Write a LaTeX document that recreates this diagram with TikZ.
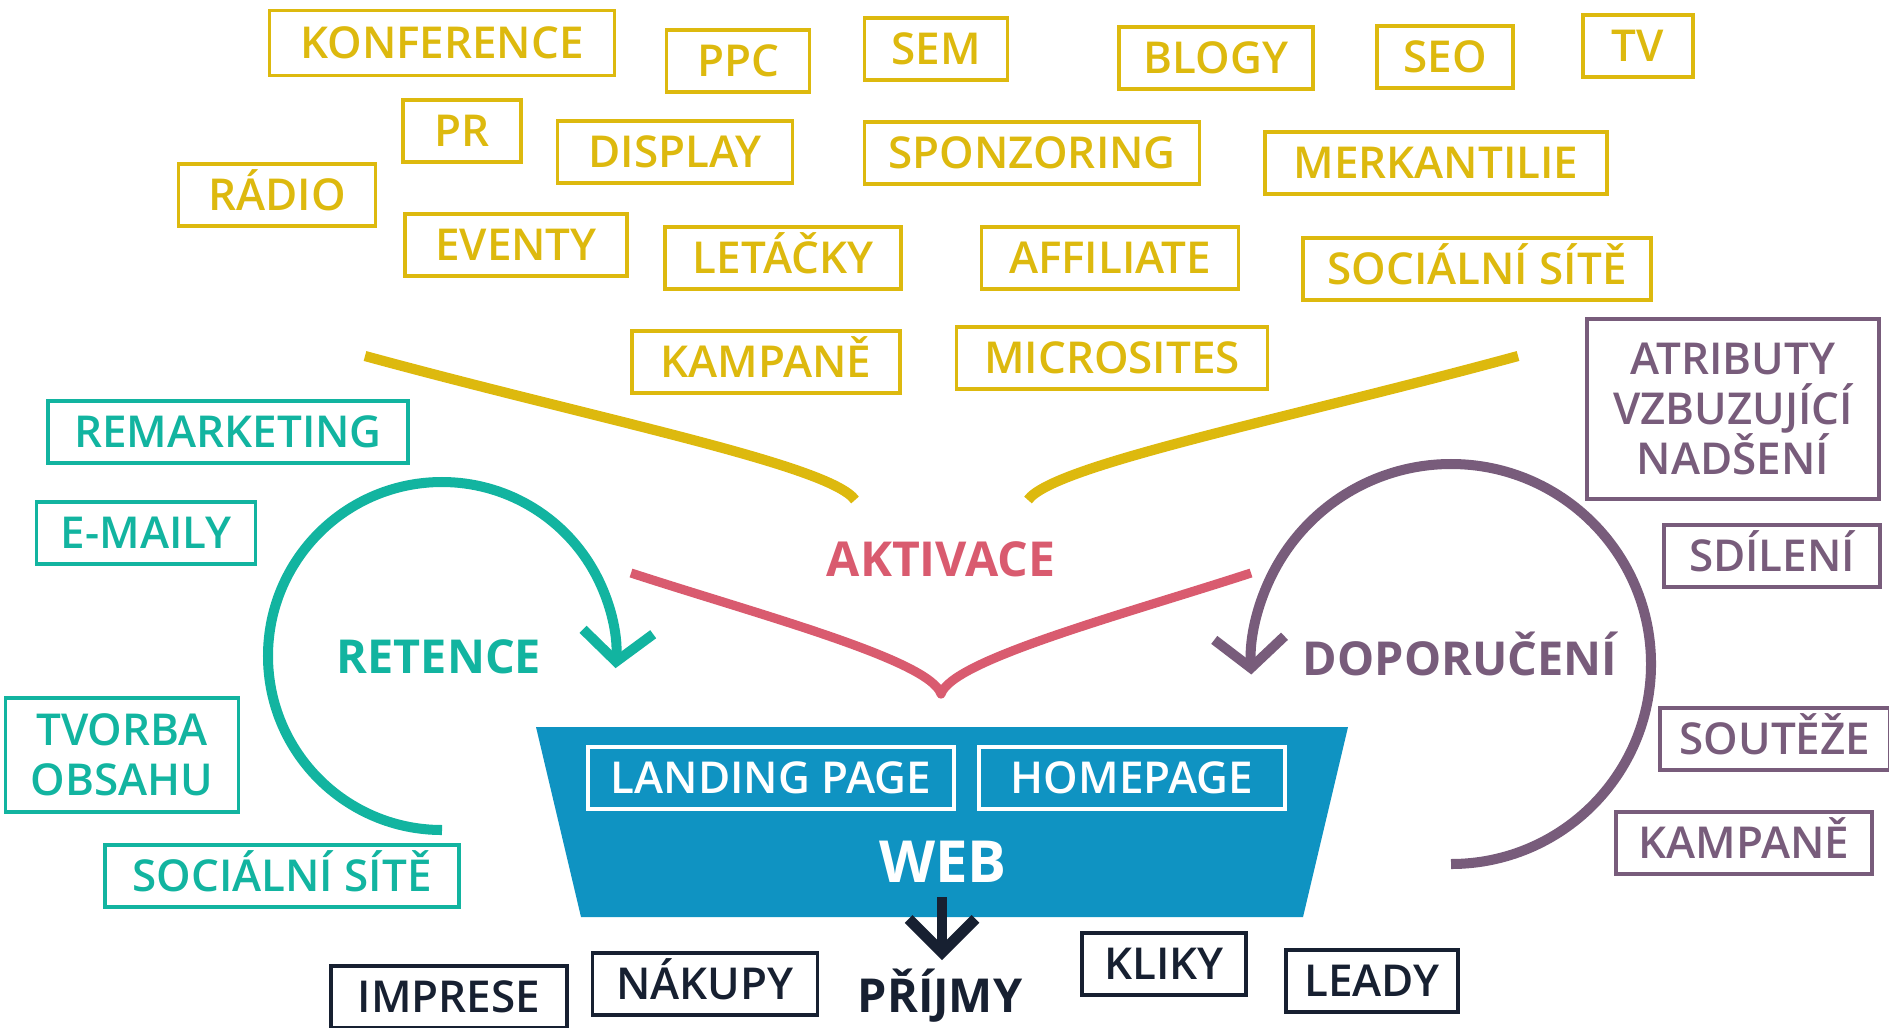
\documentclass[tikz,border=0pt]{standalone}
\usepackage{fontspec}
\setmainfont{Open Sans}
\IfFontExistsTF{Open Sans Semibold}
  {\newfontfamily\semib{Open Sans Semibold}}
  {\IfFontExistsTF{Open Sans SemiBold}
    {\newfontfamily\semib{Open Sans SemiBold}}
    {\newfontfamily\semib{Open Sans}[FakeBold=1.2]}}
\usetikzlibrary{arrows.meta}

\definecolor{mkyellow}{HTML}{DDB90E}
\definecolor{mkteal}{HTML}{12B4A0}
\definecolor{mkpurple}{HTML}{785C7B}
\definecolor{mkred}{HTML}{D95B6F}
\definecolor{mkblue}{HTML}{0F93C2}
\definecolor{mknavy}{HTML}{172031}

\tikzset{
  box/.style={draw, line width=1pt, inner sep=0pt, minimum height=0.62cm,
    font=\semib\fontsize{12.5}{14.2}\selectfont},
  tag/.style={box, text height=0.31cm, text depth=0cm},
  ytag/.style={tag, draw=mkyellow, text=mkyellow},
  ttag/.style={tag, draw=mkteal, text=mkteal},
  ptag/.style={tag, draw=mkpurple, text=mkpurple},
  ntag/.style={tag, draw=mknavy, text=mknavy},
  wtag/.style={tag, draw=white, text=white},
  phase/.style={anchor=base, font=\bfseries\fontsize{13.3}{16}\selectfont},
  loop/.style={line width=2.85pt, -{Straight Barb[length=8.5pt,width=20pt]}}
}

\begin{document}
\begin{tikzpicture}[x=0.01cm, y=-0.01cm]
    \useasboundingbox (0,0) rectangle (1889,1027);

    % akvizice
    \node[ytag, minimum width=3.45cm, minimum height=0.65cm] (konference) at (442,43) {KONFERENCE};
    \node[ytag, minimum width=1.43cm] (ppc) at (738,61) {PPC};
    \node[ytag, minimum width=1.43cm] (sem) at (936,49) {SEM};
    \node[ytag, minimum width=1.94cm] (blogy) at (1216,58) {BLOGY};
    \node[ytag, minimum width=1.36cm] (seo) at (1445,57) {SEO};
    \node[ytag, minimum width=1.10cm] (tv) at (1638,46) {TV};
    \node[ytag, minimum width=1.18cm] (pr) at (462,131) {PR};
    \node[ytag, minimum width=2.35cm] (display) at (675,152) {DISPLAY};
    \node[ytag, minimum width=3.35cm] (sponzoring) at (1032,153) {SPONZORING};
    \node[ytag, minimum width=3.42cm] (merkantilie) at (1436,163) {MERKANTILIE};
    \node[ytag, minimum width=1.97cm] (radio) at (277,195) {RÁDIO};
    \node[ytag, minimum width=2.22cm] (eventy) at (516,245) {EVENTY};
    \node[ytag, minimum width=2.36cm] (letacky) at (783,258) {LETÁČKY};
    \node[ytag, minimum width=2.57cm] (affiliate) at (1110,258) {AFFILIATE};
    \node[ytag, minimum width=3.48cm] (sitey) at (1477,269) {SOCIÁLNÍ SÍTĚ};
    \node[ytag, minimum width=2.68cm] (kampaney) at (766,362) {KAMPANĚ};
    \node[ytag, minimum width=3.11cm] (microsites) at (1112,358) {MICROSITES};

    % retence
    \node[ttag, minimum width=3.60cm] (remarketing) at (228,432) {REMARKETING};
    \node[ttag, minimum width=2.19cm] (emaily) at (146,533) {E-MAILY};
    \node[box, draw=mkteal, text=mkteal, align=center, minimum width=2.33cm, minimum height=1.14cm] (obsah) at (122,755) {TVORBA\\OBSAHU};
    \node[ttag, minimum width=3.54cm] (sitet) at (282,876) {SOCIÁLNÍ SÍTĚ};

    % doporuceni
    \node[box, draw=mkpurple, text=mkpurple, align=center, minimum width=2.92cm, minimum height=1.80cm] (atributy) at (1733,409) {ATRIBUTY\\VZBUZUJÍCÍ\\NADŠENÍ};
    \node[ptag, minimum width=2.16cm] (sdileni) at (1772,556) {SDÍLENÍ};
    \node[ptag, minimum width=2.30cm] (souteze) at (1775,739) {SOUTĚŽE};
    \node[ptag, minimum width=2.56cm] (kampanep) at (1744,843) {KAMPANĚ};

    % vysledky
    \node[ntag, minimum width=2.36cm] (imprese) at (449,997) {IMPRESE};
    \node[ntag, minimum width=2.25cm] (nakupy) at (705,984) {NÁKUPY};
    \node[ntag, minimum width=1.64cm] (kliky) at (1164,964) {KLIKY};
    \node[ntag, minimum width=1.72cm] (leady) at (1372,981) {LEADY};

    % web
    \fill[mkblue] (536,727) -- (1348,727) -- (1303,917) -- (581,917) -- cycle;
    \node[wtag, minimum width=3.66cm] (landing) at (771,778) {LANDING PAGE};
    \node[wtag, minimum width=3.06cm] (homepage) at (1132,778) {HOMEPAGE};
    \node[anchor=base, text=white, font=\bfseries\fontsize{16.5}{19}\selectfont] (web) at (943,882) {WEB};

    \node[phase, text=mkred, font=\bfseries\fontsize{13.7}{16}\selectfont] (aktivace) at (941,576) {AKTIVACE};
    \node[phase, text=mkteal] (retence) at (439,673) {RETENCE};
    \node[phase, text=mkpurple] (doporuceni) at (1460,675) {DOPORUČENÍ};
    \node[phase, text=mknavy] (prijmy) at (940,1012) {PŘÍJMY};

    \coordinate (yl) at (365,356);
    \coordinate (ylend) at (855,500);
    \coordinate (yr) at (1518,356);
    \coordinate (yrend) at (1028,500);
    \coordinate (rl) at (631,573);
    \coordinate (rv) at (941,694);
    \coordinate (rr) at (1251,573);
    \coordinate (tstart) at (442,830);
    \coordinate (pstart) at (1451,864);
    \coordinate (wtop) at (942,897);
    \coordinate (wtip) at (942,960);

    \draw[mkyellow, line width=2.9pt] (yl) .. controls (600,420) and (830,465) .. (ylend);
    \draw[mkyellow, line width=2.9pt] (yr) .. controls (1283,420) and (1053,465) .. (yrend);
    \draw[mkred, line width=2.6pt, line join=round] (rl) .. controls (760,615) and (930,660) .. (rv)
        .. controls (952,660) and (1122,615) .. (rr);

    \draw[loop, mkteal] (tstart) arc[start angle=90, end angle=364, radius=174];
    \draw[loop, mkpurple] (pstart) arc[start angle=90, end angle=-183, radius=200];
    \draw[mknavy, line width=3.1pt, -{Straight Barb[length=9.5pt,width=19pt]}] (wtop) -- (wtip);
\end{tikzpicture}
\end{document}
